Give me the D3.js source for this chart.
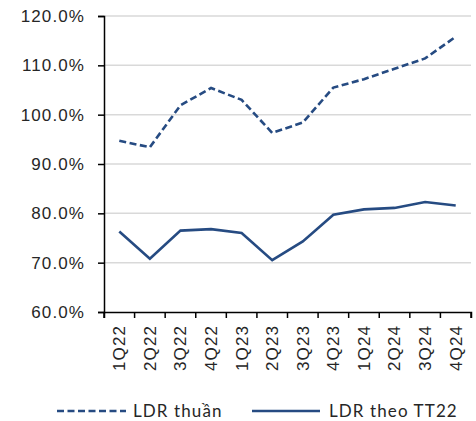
<!DOCTYPE html>
<html>
<head>
<meta charset="utf-8">
<script src="https://cdn.jsdelivr.net/npm/d3@7"></script>
<style>
  body { margin: 0; background: #fff; }
  svg { display: block; font-family: Lato, "Noto Sans", sans-serif; }
  svg text { letter-spacing: 1.1px; }
</style>
</head>
<body>
<script>
var quarters = ['1Q22', '2Q22', '3Q22', '4Q22', '1Q23', '2Q23', '3Q23', '4Q23', '1Q24', '2Q24', '3Q24', '4Q24']
var ldrThuan = [94.7, 93.4, 101.9, 105.4, 103.0, 96.3, 98.4, 105.5, 107.2, 109.3, 111.4, 115.8]
var ldrTT22 = [76.3, 70.8, 76.5, 76.8, 76.0, 70.5, 74.3, 79.7, 80.8, 81.1, 82.3, 81.6]
var yTicks = [60, 70, 80, 90, 100, 110, 120]
var seriesNames = ['LDR thuần', 'LDR theo TT22']

var width = 476, height = 421
var margin = {top: 16, right: 5, bottom: 109, left: 104}
var color = '#264B82'

var svg = d3.select('body').append('svg')
  .attr('width', width)
  .attr('height', height)

var x = d3.scaleBand()
  .domain(quarters)
  .range([margin.left, width - margin.right])

var y = d3.scaleLinear()
  .domain([60, 120])
  .range([height - margin.bottom, margin.top])

// gridlines
svg.append('g')
  .selectAll('line')
  .data(yTicks.slice(1))
  .enter().append('line')
  .attr('x1', margin.left)
  .attr('x2', width - margin.right)
  .attr('y1', function(d){ return y(d) })
  .attr('y2', function(d){ return y(d) })
  .attr('stroke', '#d9d9d9')
  .attr('stroke-width', 1.5)

var yAxis = svg.append('g')
  .attr('transform', 'translate(' + margin.left + ',0)')
  .call(d3.axisLeft(y).tickValues(yTicks).tickSize(6).tickPadding(13)
    .tickFormat(function(d){ return d.toFixed(1) + '%' }))
yAxis.select('.domain').attr('stroke', '#000').attr('stroke-width', 1.5)
yAxis.selectAll('.tick line').attr('stroke', '#000').attr('stroke-width', 1.5)
yAxis.selectAll('text').attr('font-size', 17).attr('fill', '#262626')

var xAxis = svg.append('g')
  .attr('transform', 'translate(0,' + (height - margin.bottom) + ')')
  .call(d3.axisBottom(x).tickSize(6).tickSizeOuter(6))
xAxis.select('.domain').attr('stroke', '#000').attr('stroke-width', 1.5)
// ticks on band edges
xAxis.selectAll('.tick line')
  .attr('x1', -x.bandwidth() / 2).attr('x2', -x.bandwidth() / 2)
  .attr('stroke', '#000').attr('stroke-width', 1.5)
xAxis.append('line')
  .attr('x1', width - margin.right).attr('x2', width - margin.right)
  .attr('y1', 0).attr('y2', 6)
  .attr('stroke', '#000').attr('stroke-width', 1.5)
xAxis.selectAll('text')
  .attr('font-size', 17)
  .attr('fill', '#262626')
  .attr('transform', 'rotate(-90)')
  .attr('text-anchor', 'end')
  .attr('dy', '0.35em')
  .attr('x', -13)
  .attr('y', 0)

var line = d3.line()
  .x(function(d, i){ return x(quarters[i]) + x.bandwidth() / 2 })
  .y(function(d){ return y(d) })

svg.append('path')
  .datum(ldrThuan)
  .attr('d', line)
  .attr('fill', 'none')
  .attr('stroke', color)
  .attr('stroke-width', 2.6)
  .attr('stroke-dasharray', '7,3.5')

svg.append('path')
  .datum(ldrTT22)
  .attr('d', line)
  .attr('fill', 'none')
  .attr('stroke', color)
  .attr('stroke-width', 2.6)

// legend
var legend = svg.append('g').attr('transform', 'translate(0,411)')
legend.append('line')
  .attr('x1', 57).attr('x2', 126).attr('y1', 0).attr('y2', 0)
  .attr('stroke', color).attr('stroke-width', 2.6).attr('stroke-dasharray', '7,3.5')
legend.append('text')
  .attr('x', 133).attr('y', 0).attr('dy', '0.35em')
  .attr('font-size', 17).attr('fill', '#262626')
  .text(seriesNames[0])
legend.append('line')
  .attr('x1', 252).attr('x2', 320).attr('y1', 0).attr('y2', 0)
  .attr('stroke', color).attr('stroke-width', 2.6)
legend.append('text')
  .attr('x', 329).attr('y', 0).attr('dy', '0.35em')
  .attr('font-size', 17).attr('fill', '#262626')
  .text(seriesNames[1])
</script>
</body>
</html>
